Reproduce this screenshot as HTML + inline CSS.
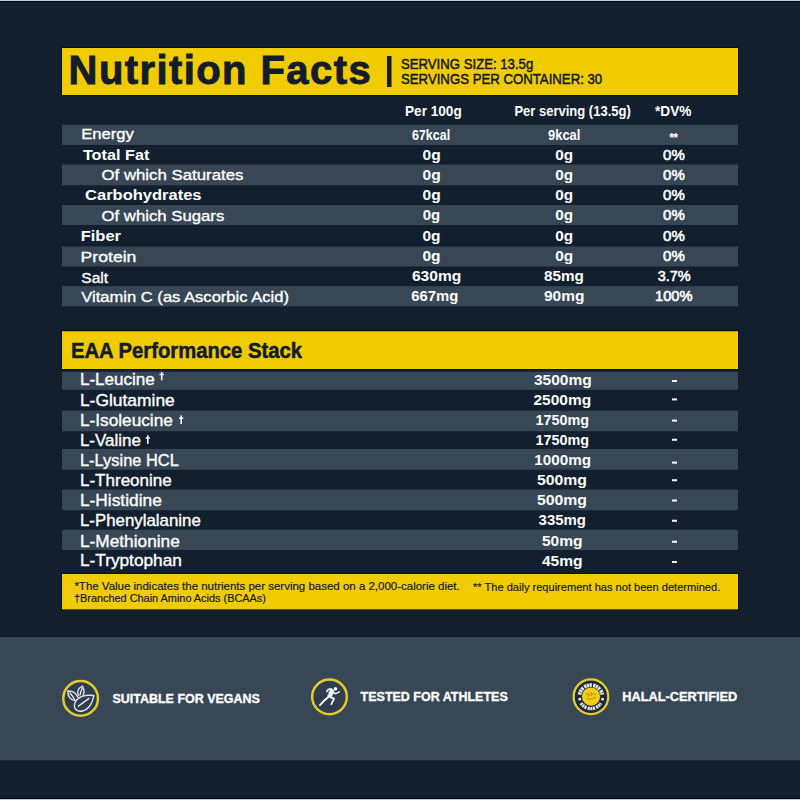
<!DOCTYPE html>
<html><head><meta charset="utf-8"><style>
html,body{margin:0;padding:0;background:#121f2e;width:800px;height:800px;overflow:hidden}
svg{display:block;font-family:"Liberation Sans",sans-serif}
</style></head><body>
<svg width="800" height="800" viewBox="0 0 800 800">
<rect x="0" y="0" width="800" height="800" fill="#121f2e"/>
<rect x="0" y="0" width="800" height="1" fill="#c4c9d0"/>
<rect x="0" y="1" width="800" height="1" fill="#040a12"/>
<rect x="0" y="798" width="800" height="1" fill="#040a12"/>
<rect x="0" y="799" width="800" height="1" fill="#c0c6cc"/>
<rect x="61" y="47" width="678" height="49" fill="#0d1116"/>
<rect x="62" y="48" width="676" height="47" fill="#f0cb00"/>
<rect x="387" y="56" width="4.5" height="31" fill="#141b29"/>
<rect x="62" y="124.75" width="676" height="20.15" fill="#374756"/>
<rect x="62" y="164.5" width="676" height="20.8" fill="#374756"/>
<rect x="62" y="205" width="676" height="20" fill="#374756"/>
<rect x="62" y="246.5" width="676" height="20.0" fill="#374756"/>
<rect x="62" y="286.2" width="676" height="20.2" fill="#374756"/>
<rect x="61" y="330.25" width="678" height="39.75" fill="#0d1116"/>
<rect x="62" y="331.25" width="676" height="37.75" fill="#f0cb00"/>
<rect x="62" y="371.7" width="676" height="18.1" fill="#374756"/>
<rect x="62" y="410.6" width="676" height="20.65" fill="#374756"/>
<rect x="62" y="449" width="676" height="20.75" fill="#374756"/>
<rect x="62" y="489.5" width="676" height="20.75" fill="#374756"/>
<rect x="62" y="529.75" width="676" height="20.25" fill="#374756"/>
<rect x="672" y="380" width="5" height="2" fill="#ffffff"/>
<rect x="672" y="398.4" width="5" height="2" fill="#ffffff"/>
<rect x="672" y="419.6" width="5" height="2" fill="#ffffff"/>
<rect x="672" y="438.75" width="5" height="2" fill="#ffffff"/>
<rect x="672" y="461.6" width="5" height="2" fill="#ffffff"/>
<rect x="672" y="479.25" width="5" height="2" fill="#ffffff"/>
<rect x="672" y="499.5" width="5" height="2" fill="#ffffff"/>
<rect x="672" y="519.75" width="5" height="2" fill="#ffffff"/>
<rect x="672" y="540.75" width="5" height="2" fill="#ffffff"/>
<rect x="672" y="561" width="5" height="2" fill="#ffffff"/>
<rect x="61" y="573" width="678" height="37.4" fill="#0d1116"/>
<rect x="62" y="574" width="676" height="35.4" fill="#f0cb00"/>
<rect x="0" y="637" width="800" height="123.25" fill="#374756"/>
<text x="669.2" y="142" font-size="12.5" font-weight="bold" fill="#fff" letter-spacing="-0.8">**</text>
<rect x="160.9" y="371.8" width="1.6" height="8.5" fill="#fff"/><rect x="159.5" y="373.8" width="4.4" height="1.4" fill="#fff"/>
<rect x="180.4" y="415.5" width="1.6" height="8.5" fill="#fff"/><rect x="179.0" y="417.5" width="4.4" height="1.4" fill="#fff"/>
<rect x="147.0" y="435.3" width="1.6" height="8.5" fill="#fff"/><rect x="145.6" y="437.3" width="4.4" height="1.4" fill="#fff"/>

<text transform="translate(68.60 84.00) scale(1.0000 1)" letter-spacing="1.416" font-size="40" font-weight="bold" fill="#141b29" stroke="#141b29" stroke-width="0.9">Nutrition Facts</text>
<text transform="translate(401.00 69.00) scale(0.8784 1)" letter-spacing="0.000" font-size="15" font-weight="normal" fill="#141b29" stroke="#141b29" stroke-width="0.5">SERVING SIZE: 13.5g</text>
<text transform="translate(401.00 84.00) scale(0.8803 1)" letter-spacing="0.000" font-size="15" font-weight="normal" fill="#141b29" stroke="#141b29" stroke-width="0.5">SERVINGS PER CONTAINER: 30</text>
<text transform="translate(405.00 116.00) scale(0.9396 1)" letter-spacing="0.000" font-size="14.5" font-weight="bold" fill="#ffffff">Per 100g</text>
<text transform="translate(514.40 116.00) scale(0.8975 1)" letter-spacing="0.000" font-size="14.5" font-weight="bold" fill="#ffffff">Per serving (13.5g)</text>
<text transform="translate(655.00 116.00) scale(0.9436 1)" letter-spacing="0.000" font-size="14.5" font-weight="bold" fill="#ffffff">*DV%</text>
<text transform="translate(81.13 139.30) scale(1.0711 1)" letter-spacing="0.000" font-size="15.5" font-weight="normal" fill="#ffffff" stroke="#ffffff" stroke-width="0.35">Energy</text>
<text transform="translate(82.90 160.00) scale(1.0487 1)" letter-spacing="0.000" font-size="15.5" font-weight="bold" fill="#ffffff">Total Fat</text>
<text transform="translate(101.50 180.20) scale(1.0842 1)" letter-spacing="0.000" font-size="15.5" font-weight="normal" fill="#ffffff" stroke="#ffffff" stroke-width="0.35">Of which Saturates</text>
<text transform="translate(85.10 199.50) scale(1.0655 1)" letter-spacing="0.000" font-size="15.5" font-weight="bold" fill="#ffffff">Carbohydrates</text>
<text transform="translate(101.50 220.50) scale(1.0802 1)" letter-spacing="0.000" font-size="15.5" font-weight="normal" fill="#ffffff" stroke="#ffffff" stroke-width="0.35">Of which Sugars</text>
<text transform="translate(80.69 241.00) scale(1.0648 1)" letter-spacing="0.000" font-size="15.5" font-weight="bold" fill="#ffffff">Fiber</text>
<text transform="translate(80.61 262.00) scale(1.1371 1)" letter-spacing="0.000" font-size="15.5" font-weight="normal" fill="#ffffff" stroke="#ffffff" stroke-width="0.35">Protein</text>
<text transform="translate(81.30 282.60) scale(1.0017 1)" letter-spacing="0.000" font-size="15.5" font-weight="normal" fill="#ffffff" stroke="#ffffff" stroke-width="0.35">Salt</text>
<text transform="translate(81.30 301.80) scale(1.0689 1)" letter-spacing="0.000" font-size="15.5" font-weight="normal" fill="#ffffff" stroke="#ffffff" stroke-width="0.35">Vitamin C (as Ascorbic Acid)</text>
<text transform="translate(412.00 139.50) scale(0.8313 1)" letter-spacing="0.000" font-size="15" font-weight="bold" fill="#ffffff">67kcal</text>
<text transform="translate(548.10 139.50) scale(0.8590 1)" letter-spacing="0.000" font-size="15" font-weight="bold" fill="#ffffff">9kcal</text>
<text transform="translate(422.50 159.80) scale(1.0379 1)" letter-spacing="0.000" font-size="15" font-weight="bold" fill="#ffffff">0g</text>
<text transform="translate(555.30 159.80) scale(1.0206 1)" letter-spacing="0.000" font-size="15" font-weight="bold" fill="#ffffff">0g</text>
<text transform="translate(663.10 159.80) scale(1.0027 1)" letter-spacing="0.000" font-size="15" font-weight="normal" fill="#ffffff" stroke="#ffffff" stroke-width="0.55">0%</text>
<text transform="translate(422.50 180.00) scale(1.0379 1)" letter-spacing="0.000" font-size="15" font-weight="bold" fill="#ffffff">0g</text>
<text transform="translate(555.30 180.00) scale(1.0206 1)" letter-spacing="0.000" font-size="15" font-weight="bold" fill="#ffffff">0g</text>
<text transform="translate(663.10 180.00) scale(1.0027 1)" letter-spacing="0.000" font-size="15" font-weight="normal" fill="#ffffff" stroke="#ffffff" stroke-width="0.55">0%</text>
<text transform="translate(422.50 200.00) scale(1.0379 1)" letter-spacing="0.000" font-size="15" font-weight="bold" fill="#ffffff">0g</text>
<text transform="translate(555.30 200.00) scale(1.0206 1)" letter-spacing="0.000" font-size="15" font-weight="bold" fill="#ffffff">0g</text>
<text transform="translate(663.10 200.00) scale(1.0027 1)" letter-spacing="0.000" font-size="15" font-weight="normal" fill="#ffffff" stroke="#ffffff" stroke-width="0.55">0%</text>
<text transform="translate(422.75 219.50) scale(0.9947 1)" letter-spacing="0.000" font-size="15" font-weight="bold" fill="#ffffff">0g</text>
<text transform="translate(555.30 219.50) scale(1.0206 1)" letter-spacing="0.000" font-size="15" font-weight="bold" fill="#ffffff">0g</text>
<text transform="translate(663.10 219.50) scale(1.0027 1)" letter-spacing="0.000" font-size="15" font-weight="normal" fill="#ffffff" stroke="#ffffff" stroke-width="0.55">0%</text>
<text transform="translate(422.50 240.50) scale(1.0322 1)" letter-spacing="0.000" font-size="15" font-weight="bold" fill="#ffffff">0g</text>
<text transform="translate(555.30 240.50) scale(1.0206 1)" letter-spacing="0.000" font-size="15" font-weight="bold" fill="#ffffff">0g</text>
<text transform="translate(663.10 240.50) scale(1.0027 1)" letter-spacing="0.000" font-size="15" font-weight="normal" fill="#ffffff" stroke="#ffffff" stroke-width="0.55">0%</text>
<text transform="translate(422.50 261.30) scale(1.0322 1)" letter-spacing="0.000" font-size="15" font-weight="bold" fill="#ffffff">0g</text>
<text transform="translate(555.30 261.30) scale(1.0206 1)" letter-spacing="0.000" font-size="15" font-weight="bold" fill="#ffffff">0g</text>
<text transform="translate(663.10 261.30) scale(1.0027 1)" letter-spacing="0.000" font-size="15" font-weight="normal" fill="#ffffff" stroke="#ffffff" stroke-width="0.55">0%</text>
<text transform="translate(411.90 280.90) scale(1.0388 1)" letter-spacing="0.000" font-size="15" font-weight="bold" fill="#ffffff">630mg</text>
<text transform="translate(544.00 280.90) scale(1.0187 1)" letter-spacing="0.000" font-size="15" font-weight="bold" fill="#ffffff">85mg</text>
<text transform="translate(657.80 280.90) scale(0.9630 1)" letter-spacing="0.000" font-size="15" font-weight="normal" fill="#ffffff" stroke="#ffffff" stroke-width="0.55">3.7%</text>
<text transform="translate(411.30 301.00) scale(0.9902 1)" letter-spacing="0.000" font-size="15" font-weight="bold" fill="#ffffff">667mg</text>
<text transform="translate(544.00 301.00) scale(1.0328 1)" letter-spacing="0.000" font-size="15" font-weight="bold" fill="#ffffff">90mg</text>
<text transform="translate(655.02 301.00) scale(0.9777 1)" letter-spacing="0.000" font-size="15" font-weight="normal" fill="#ffffff" stroke="#ffffff" stroke-width="0.55">100%</text>
<text transform="translate(70.96 358.00) scale(0.9425 1)" letter-spacing="0.000" font-size="21.5" font-weight="bold" fill="#141b29" stroke="#141b29" stroke-width="0.5">EAA Performance Stack</text>
<text transform="translate(79.93 385.00) scale(1.0667 1)" letter-spacing="0.000" font-size="16" font-weight="normal" fill="#ffffff" stroke="#ffffff" stroke-width="0.35">L-Leucine</text>
<text transform="translate(79.91 406.00) scale(1.0899 1)" letter-spacing="0.000" font-size="16" font-weight="normal" fill="#ffffff" stroke="#ffffff" stroke-width="0.35">L-Glutamine</text>
<text transform="translate(79.92 426.00) scale(1.0776 1)" letter-spacing="0.000" font-size="16" font-weight="normal" fill="#ffffff" stroke="#ffffff" stroke-width="0.35">L-Isoleucine</text>
<text transform="translate(79.94 446.00) scale(1.0597 1)" letter-spacing="0.000" font-size="16" font-weight="normal" fill="#ffffff" stroke="#ffffff" stroke-width="0.35">L-Valine</text>
<text transform="translate(79.97 465.50) scale(1.0269 1)" letter-spacing="0.000" font-size="16" font-weight="normal" fill="#ffffff" stroke="#ffffff" stroke-width="0.35">L-Lysine HCL</text>
<text transform="translate(79.93 486.00) scale(1.0659 1)" letter-spacing="0.000" font-size="16" font-weight="normal" fill="#ffffff" stroke="#ffffff" stroke-width="0.35">L-Threonine</text>
<text transform="translate(79.92 506.00) scale(1.0845 1)" letter-spacing="0.000" font-size="16" font-weight="normal" fill="#ffffff" stroke="#ffffff" stroke-width="0.35">L-Histidine</text>
<text transform="translate(79.95 526.00) scale(1.0540 1)" letter-spacing="0.000" font-size="16" font-weight="normal" fill="#ffffff" stroke="#ffffff" stroke-width="0.35">L-Phenylalanine</text>
<text transform="translate(79.92 546.50) scale(1.0808 1)" letter-spacing="0.000" font-size="16" font-weight="normal" fill="#ffffff" stroke="#ffffff" stroke-width="0.35">L-Methionine</text>
<text transform="translate(79.92 566.00) scale(1.0791 1)" letter-spacing="0.000" font-size="16" font-weight="normal" fill="#ffffff" stroke="#ffffff" stroke-width="0.35">L-Tryptophan</text>
<text transform="translate(534.00 385.00) scale(1.0322 1)" letter-spacing="0.000" font-size="15" font-weight="bold" fill="#ffffff">3500mg</text>
<text transform="translate(533.50 404.80) scale(1.0322 1)" letter-spacing="0.000" font-size="15" font-weight="bold" fill="#ffffff">2500mg</text>
<text transform="translate(535.50 425.00) scale(0.9604 1)" letter-spacing="0.000" font-size="15" font-weight="bold" fill="#ffffff">1750mg</text>
<text transform="translate(535.50 444.50) scale(0.9604 1)" letter-spacing="0.000" font-size="15" font-weight="bold" fill="#ffffff">1750mg</text>
<text transform="translate(534.30 465.30) scale(1.0160 1)" letter-spacing="0.000" font-size="15" font-weight="bold" fill="#ffffff">1000mg</text>
<text transform="translate(536.90 484.50) scale(1.0514 1)" letter-spacing="0.000" font-size="15" font-weight="bold" fill="#ffffff">500mg</text>
<text transform="translate(536.90 505.00) scale(1.0514 1)" letter-spacing="0.000" font-size="15" font-weight="bold" fill="#ffffff">500mg</text>
<text transform="translate(538.60 524.60) scale(0.9965 1)" letter-spacing="0.000" font-size="15" font-weight="bold" fill="#ffffff">335mg</text>
<text transform="translate(541.90 545.50) scale(1.0379 1)" letter-spacing="0.000" font-size="15" font-weight="bold" fill="#ffffff">50mg</text>
<text transform="translate(541.90 565.70) scale(1.0379 1)" letter-spacing="0.000" font-size="15" font-weight="bold" fill="#ffffff">45mg</text>
<text transform="translate(74.40 589.60) scale(0.9997 1)" letter-spacing="0.000" font-size="11.5" font-weight="normal" fill="#141b29" stroke="#141b29" stroke-width="0.2">*The Value indicates the nutrients per serving based on a 2,000-calorie diet.</text>
<text transform="translate(473.00 590.60) scale(0.9638 1)" letter-spacing="0.000" font-size="11.5" font-weight="normal" fill="#141b29" stroke="#141b29" stroke-width="0.2">** The daily requirement has not been determined.</text>
<text transform="translate(74.00 602.00) scale(0.9487 1)" letter-spacing="0.000" font-size="11.5" font-weight="normal" fill="#141b29" stroke="#141b29" stroke-width="0.2">†Branched Chain Amino Acids (BCAAs)</text>
<text transform="translate(112.40 702.60) scale(0.9193 1)" letter-spacing="0.000" font-size="13.6" font-weight="bold" fill="#ffffff" stroke="#ffffff" stroke-width="0.35">SUITABLE FOR VEGANS</text>
<text transform="translate(360.60 701.20) scale(0.9200 1)" letter-spacing="0.000" font-size="13.6" font-weight="bold" fill="#ffffff" stroke="#ffffff" stroke-width="0.35">TESTED FOR ATHLETES</text>
<text transform="translate(622.30 701.20) scale(0.9403 1)" letter-spacing="0.000" font-size="13.6" font-weight="bold" fill="#ffffff" stroke="#ffffff" stroke-width="0.35">HALAL-CERTIFIED</text>
<g transform="translate(58 675) scale(0.05875)">
  <circle cx="385" cy="398" r="275" fill="#2f3d4e"/>
  <circle cx="385" cy="398" r="295" fill="none" stroke="#e3cb2c" stroke-width="42"/>
  <g fill="none" stroke="#dfe3ea" stroke-width="24" stroke-linecap="round" stroke-linejoin="round">
    <path d="M610 350 C500 335 385 355 320 420 C262 480 268 565 318 598 C385 640 480 602 530 540 C580 478 598 410 610 350 Z"/>
    <path d="M348 530 L528 398"/>
    <path d="M300 440 C210 430 160 360 168 272 C245 268 300 300 335 372"/>
    <path d="M205 305 C240 345 265 385 285 425"/>
    <path d="M352 345 C318 290 338 225 415 190 C445 240 452 300 425 345"/>
    <path d="M410 228 C395 265 383 300 375 338"/>
  </g>
</g>
<g transform="translate(306 675) scale(0.05875)">
  <circle cx="400" cy="372" r="275" fill="#2f3d4e"/>
  <circle cx="400" cy="372" r="295" fill="none" stroke="#e3cb2c" stroke-width="42"/>
  <g fill="#f4f6f8" stroke="#f4f6f8" stroke-linecap="round" stroke-linejoin="round">
    <circle cx="502" cy="236" r="30" stroke="none"/>
    <path d="M420 232 L478 258 L430 392 L372 362 Z" stroke-width="10"/>
    <path d="M432 238 L382 242 L352 282" stroke-width="26" fill="none"/>
    <path d="M462 298 L505 318 L568 288" stroke-width="26" fill="none"/>
    <path d="M395 360 L318 428 L238 512" stroke-width="34" fill="none"/>
    <path d="M425 380 L478 402 L432 496" stroke-width="30" fill="none"/>
  </g>
</g>
<g transform="translate(568 675) scale(0.05875)">
  <circle cx="390" cy="370" r="277" fill="#1f2a38"/>
  <circle cx="390" cy="370" r="295" fill="none" stroke="#e6cd2e" stroke-width="38"/>
  <path d="M196 335 A197 197 0 0 1 584 335" fill="none" stroke="#e4e8ee" stroke-width="64" stroke-dasharray="40 9 36 9 40 22"/>
  <path d="M222 478 A197 197 0 0 0 558 478" fill="none" stroke="#e4e8ee" stroke-width="58" stroke-dasharray="36 9 34 9 36 20"/>
  <circle cx="200" cy="412" r="24" fill="#e4e8ee"/>
  <circle cx="588" cy="412" r="24" fill="#e4e8ee"/>
  <circle cx="392" cy="368" r="155" fill="#f0cd16"/>
  <path d="M305 340 C330 300 355 300 350 360 C390 330 430 300 470 335 M320 395 C370 425 420 415 465 380 M395 300 L400 350" fill="none" stroke="#c9a00a" stroke-width="22" stroke-linecap="round"/>
</g>

</svg>
</body></html>
